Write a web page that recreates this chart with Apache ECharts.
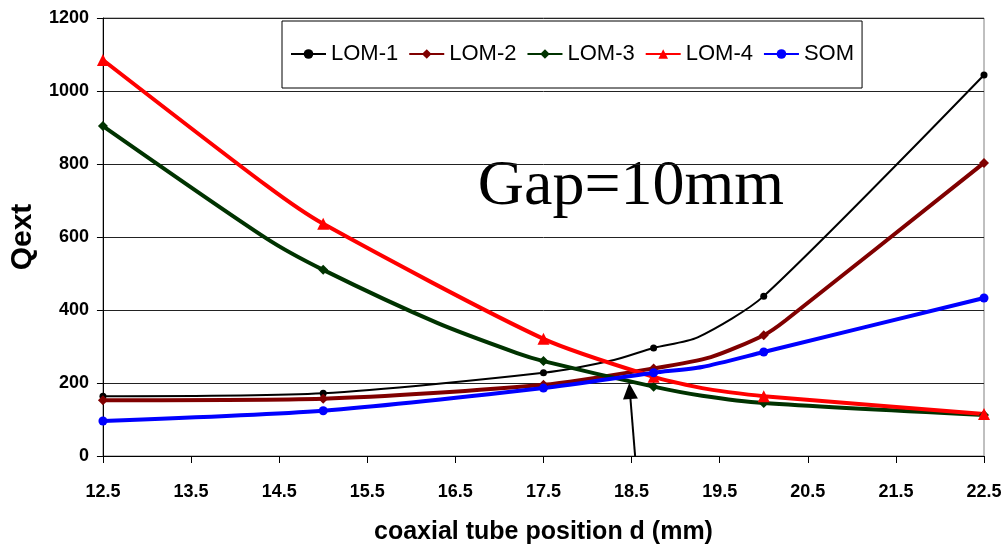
<!DOCTYPE html>
<html>
<head>
<meta charset="utf-8">
<script src="https://cdn.jsdelivr.net/npm/echarts@6/dist/echarts.min.js"></script>
<style>
  html, body { margin: 0; padding: 0; background: #fff; }
  #qextChart { width: 1005px; height: 551px; }
</style>
</head>
<body>
<div id="qextChart"></div>
<script>
// coaxial tube positions where markers were plotted (mm)
const posX = [12.5, 15, 17.5, 18.75, 20, 22.5]
const seriesNames = ['LOM-1', 'LOM-2', 'LOM-3', 'LOM-4', 'SOM']

// Qext at the marked positions
const lom1Q = [164, 172, 228, 296, 438, 1044]
const lom2Q = [153, 157, 195, 240, 331, 803]
const lom3Q = [904, 510, 260, 190, 145, 112]
const lom4Q = [1085, 636, 321, 217, 164, 115]
const somQ = [96, 124, 186, 228, 285, 433]

// extra points (no marker) where the curves bend
const lom1Bends = [[18.3, 263], [19.25, 325]]
const lom2Bends = [[19.4, 271], [20.25, 372]]
const lom3Bends = [[14.35, 597], [16.3, 364], [17.2, 282], [19.3, 165]]
const lom4Bends = [[14.35, 742], [19.3, 186], [19.6, 175]]
const somBends = [[19.3, 244]]

const xStart = 12.5 // axis counted from here, ticks every 1.0
const yTicks = [0, 200, 400, 600, 800, 1000, 1200]

// arrow pointing at the crossing, d = 18.5 mm
const arrowFrom = [18.54, 0]
const arrowTo = [18.48, 178]

const buildData = (values, bends) => {
  let pts = posX.map((x, i) => ({ value: [x - xStart, values[i]] }))
  bends.forEach(b => pts.push({ value: [b[0] - xStart, b[1]], symbol: 'none' }))
  pts.sort((a, b) => a.value[0] - b.value[0])
  return pts
}

const mkSeries = (name, values, bends, color, width, symbol, size) => ({
  name: name,
  type: 'line',
  smooth: 0.25,
  data: buildData(values, bends),
  symbol: symbol,
  symbolSize: size,
  lineStyle: { color: color, width: width },
  itemStyle: { color: color },
  emphasis: { disabled: true },
})

let myChart = echarts.init(document.getElementById('qextChart'))

let option = {
  animation: false,
  grid: { left: 97, right: 21, top: 18, bottom: 95, show: true, borderColor: '#808080', borderWidth: 1 },
  legend: {
    data: seriesNames,
    left: 282,
    top: 21,
    padding: [22, 8, 23, 8],
    itemWidth: 35,
    itemHeight: 12,
    itemGap: 10,
    borderColor: '#000',
    borderWidth: 1,
    textStyle: { fontFamily: 'Liberation Sans', fontSize: 22, color: '#000' },
  },
  xAxis: {
    type: 'value',
    min: 0,
    max: 10,
    interval: 1,
    name: 'coaxial tube position d (mm)',
    nameLocation: 'middle',
    nameGap: 64,
    nameTextStyle: { fontFamily: 'Liberation Sans', fontWeight: 'bold', fontSize: 25, color: '#000' },
    axisLine: { lineStyle: { color: '#000', width: 1 } },
    axisTick: { show: true, inside: false, length: 7, lineStyle: { color: '#000' } },
    axisLabel: {
      margin: 27,
      fontFamily: 'Liberation Sans',
      fontWeight: 'bold',
      fontSize: 18,
      color: '#000',
      formatter: v => (v + xStart).toFixed(1),
    },
    splitLine: { show: false },
  },
  yAxis: {
    type: 'value',
    min: yTicks[0],
    max: yTicks[yTicks.length - 1],
    interval: 200,
    name: 'Qext',
    nameLocation: 'middle',
    nameGap: 46,
    nameTextStyle: { fontFamily: 'Liberation Sans', fontWeight: 'bold', fontSize: 30, color: '#000' },
    axisLine: { show: true, lineStyle: { color: '#000', width: 1 } },
    axisTick: { show: true, length: 6, lineStyle: { color: '#000' } },
    axisLabel: {
      margin: 14,
      fontFamily: 'Liberation Sans',
      fontWeight: 'bold',
      fontSize: 18,
      color: '#000',
      formatter: v => String(v),
    },
    splitLine: { show: true, lineStyle: { color: '#222', width: 1 } },
  },
  graphic: [
    {
      type: 'text',
      style: {
        x: 631,
        y: 187,
        text: 'Gap=10mm',
        align: 'center',
        verticalAlign: 'middle',
        font: '64px "Liberation Serif"',
        fill: '#000',
      },
    },
  ],
  series: [
    mkSeries('LOM-1', lom1Q, lom1Bends, '#000000', 2, 'circle', 7),
    mkSeries('LOM-2', lom2Q, lom2Bends, '#800000', 4, 'diamond', 10),
    mkSeries('LOM-3', lom3Q, lom3Bends, '#003300', 4, 'diamond', 10),
    mkSeries('LOM-4', lom4Q, lom4Bends, '#ff0000', 4, 'triangle', 12),
    Object.assign(mkSeries('SOM', somQ, somBends, '#0000ff', 4, 'circle', 9), {
      markLine: {
        silent: true,
        symbol: ['none', 'triangle'],
        symbolSize: [15, 16],
        lineStyle: { color: '#000', width: 2, type: 'solid' },
        label: { show: false },
        data: [[
          { coord: [arrowFrom[0] - xStart, arrowFrom[1]] },
          { coord: [arrowTo[0] - xStart, arrowTo[1]] },
        ]],
      },
    }),
  ],
}

myChart.setOption(option)
</script>
</body>
</html>
